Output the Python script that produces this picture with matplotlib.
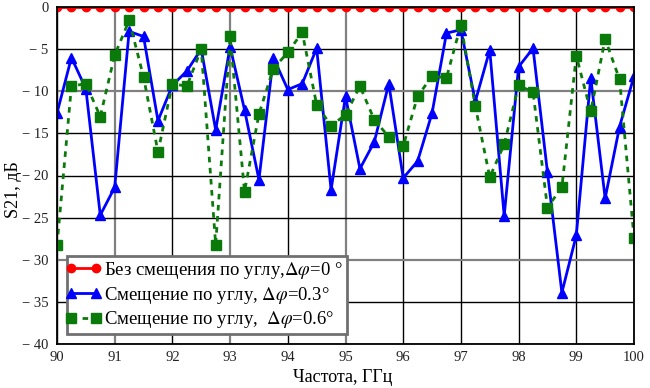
import matplotlib
matplotlib.use("Agg")
import matplotlib.pyplot as plt
from matplotlib.lines import Line2D
from matplotlib.legend_handler import HandlerLine2D

# frequency grid, GHz
freq = [90.0, 90.25, 90.5, 90.75, 91.0, 91.25, 91.5, 91.75, 92.0, 92.25,
        92.5, 92.75, 93.0, 93.25, 93.5, 93.75, 94.0, 94.25, 94.5, 94.75,
        95.0, 95.25, 95.5, 95.75, 96.0, 96.25, 96.5, 96.75, 97.0, 97.25,
        97.5, 97.75, 98.0, 98.25, 98.5, 98.75, 99.0, 99.25, 99.5, 99.75,
        100.0]

# no angle offset
s21_0 = [0, 0, 0, 0, 0, 0, 0, 0, 0, 0,
         0, 0, 0, 0, 0, 0, 0, 0, 0, 0,
         0, 0, 0, 0, 0, 0, 0, 0, 0, 0,
         0, 0, 0, 0, 0, 0, 0, 0, 0, 0,
         0]

# offset 0.3 deg
s21_03 = [-12.6, -6.0, -9.7, -24.7, -21.4, -2.9, -3.5, -13.5, -9.3, -7.6,
          -5.0, -14.6, -4.7, -12.2, -20.5, -6.0, -9.8, -9.1, -4.9, -21.7,
          -10.6, -19.2, -16.0, -9.1, -20.3, -18.3, -12.6, -3.1, -2.7, -11.2,
          -5.1, -24.8, -7.1, -4.9, -19.6, -33.9, -27.1, -8.4, -22.7, -14.2,
          -8.2]

# offset 0.6 deg
s21_06 = [-28.3, -9.4, -9.1, -13.0, -5.7, -1.6, -8.3, -17.2, -9.1, -9.4,
          -5.0, -28.2, -3.5, -21.9, -12.7, -7.3, -5.4, -3.0, -11.6, -14.1,
          -12.8, -9.4, -13.4, -15.4, -16.5, -10.6, -8.2, -8.4, -2.1, -11.8,
          -20.2, -16.3, -9.3, -10.1, -23.8, -21.4, -5.8, -12.4, -3.8, -8.6,
          -27.4]

labels = ["Без смещения по углу,$\\Delta\\varphi$=0 °",
          "Смещение по углу, $\\Delta\\varphi$=0.3°",
          "Смещение по углу,  $\\Delta\\varphi$=0.6°"]

xticks = [90, 91, 92, 93, 94, 95, 96, 97, 98, 99, 100]
yticks = [0, -5, -10, -15, -20, -25, -30, -35, -40]

plt.rcParams['font.family'] = ['Liberation Serif', 'DejaVu Serif']
plt.rcParams['mathtext.fontset'] = 'stix'

fig = plt.figure(figsize=(6.5, 3.88), dpi=100)
ax = fig.add_axes([57 / 650, 1 - 344 / 388, 577 / 650, 337 / 388])

ax.plot(freq, s21_0, '-o', color='#ff0000', lw=2, ms=6, label=labels[0], zorder=3)
ax.plot(freq, s21_03, '-^', color='#0000ff', lw=2, ms=7, label=labels[1], zorder=4)
ax.plot(freq, s21_06, 's', color='#0a7a0a', ls=(0, (2, 2)), lw=2, ms=7,
        label=labels[2], zorder=5)

ax.set_xlim(90, 100)
ax.set_ylim(-40, 0)
ax.set_xticks(xticks)
ax.set_yticks(yticks)
ax.set_xticklabels([str(t) for t in xticks])
ax.set_yticklabels(["0" if t == 0 else "\u2212 %d" % -t for t in yticks])
ax.tick_params(length=0, labelsize=10.5, colors='#222222')
ax.tick_params(axis='x', pad=5)
ax.tick_params(axis='y', pad=6)

# grid, a few lines come out grey in the original
ax.grid(True, color='black', lw=1)
for t, gl in zip(xticks, ax.get_xgridlines()):
    if t in (91, 93, 95):
        gl.set_color('#808080')
        gl.set_linewidth(1.6)
for t, gl in zip(yticks, ax.get_ygridlines()):
    if t in (-10, -30):
        gl.set_color('#808080')
        gl.set_linewidth(1.6)
ax.set_axisbelow(True)

for sp in ax.spines.values():
    sp.set_linewidth(1.3)
    sp.set_zorder(6)

leg = ax.legend(loc='lower left', bbox_to_anchor=(10 / 577, 10 / 337),
                fontsize=13.5, frameon=True, fancybox=False, framealpha=1,
                edgecolor='#707070', borderpad=0.2, labelspacing=0.2,
                handlelength=1.35, handletextpad=0.45, borderaxespad=0,
                handler_map={Line2D: HandlerLine2D(marker_pad=0, numpoints=2)})
leg.get_frame().set_linewidth(2)
leg.set_zorder(7)

fig.text(343 / 650, 1 - 378 / 388, "Частота, ГГц", ha='center', va='center',
         fontsize=13)
fig.text(13 / 650, 1 - 190 / 388, "S21, дБ", ha='center', va='center',
         rotation=90, fontsize=13)

fig.savefig('out.png', dpi=100)
